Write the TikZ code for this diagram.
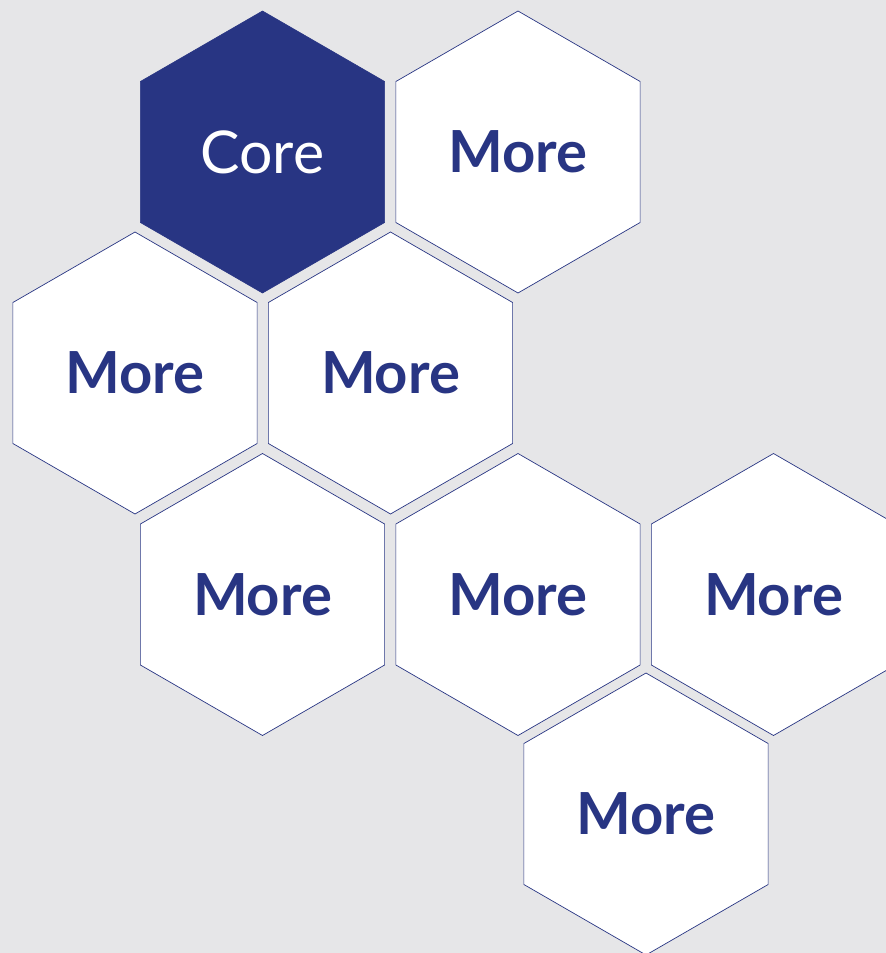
\documentclass[tikz,border=0pt]{standalone}
\usepackage{fontspec}
\setmainfont{Lato}
\usetikzlibrary{shapes.geometric}
\definecolor{hexblue}{RGB}{40,53,131}
\definecolor{bggray}{RGB}{230,230,232}
\tikzset{
  hexbase/.style={regular polygon, regular polygon sides=6, shape border rotate=30,
    minimum size=282pt, inner sep=0pt, outer sep=0pt, font=\fontsize{59}{59}\selectfont},
  corehex/.style={hexbase, fill=hexblue, draw=hexblue, line width=0.6pt, text=white},
  morehex/.style={hexbase, fill=white, draw=hexblue, line width=0.7pt, text=hexblue, font=\fontsize{58}{58}\selectfont\bfseries}
}
\begin{document}
\begin{tikzpicture}[x=1pt,y=-1pt]
\fill[bggray] (0,0) rectangle (886,953);
\useasboundingbox (0,0) rectangle (886,953);
\clip (0,0) rectangle (886,953);
\node[corehex] (core) at (262.5,152) {Core};
\node[morehex] (m1) at (518,152) {More};
\node[morehex] (m2) at (135,373) {More};
\node[morehex] (m3) at (390.5,373) {More};
\node[morehex] (m4) at (262.5,594.5) {More};
\node[morehex] (m5) at (518,594.5) {More};
\node[morehex] (m6) at (773.5,594.5) {More};
\node[morehex] (m7) at (646,814) {More};
\end{tikzpicture}
\end{document}
